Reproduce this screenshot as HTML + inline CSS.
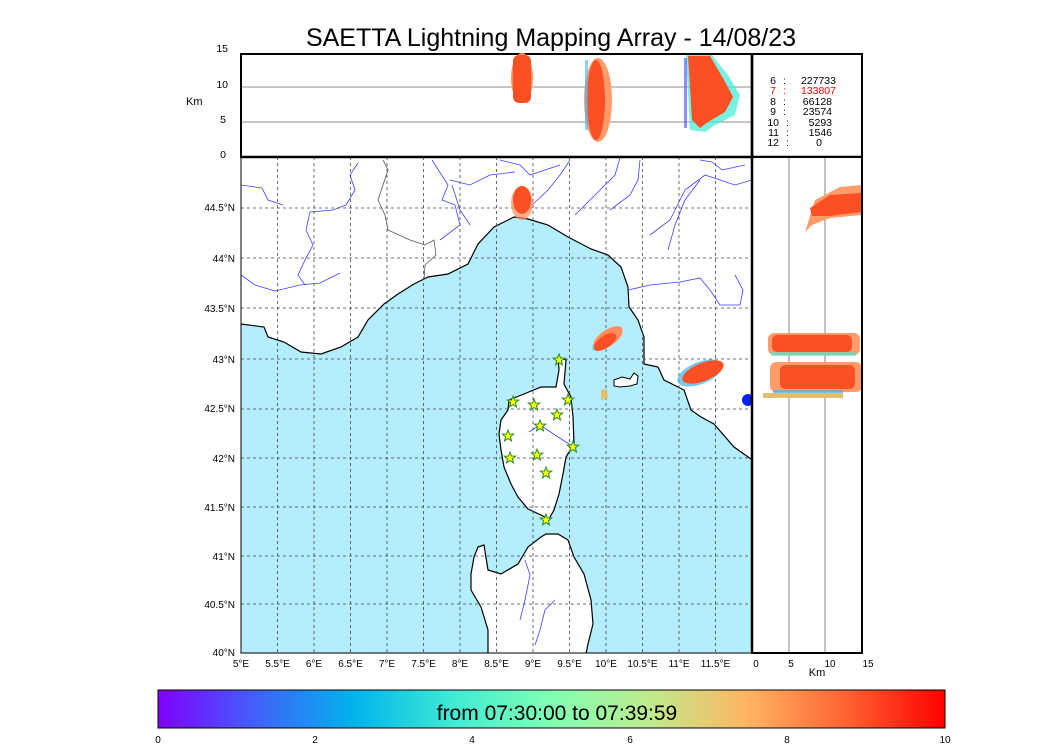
<!DOCTYPE html>
<html><head><meta charset="utf-8"><style>
html,body{margin:0;padding:0;background:#fff;}
svg{display:block;font-family:"Liberation Sans",sans-serif;}
</style></head><body>
<svg width="1050" height="750" viewBox="0 0 1050 750" xmlns="http://www.w3.org/2000/svg">
<defs>
<linearGradient id="rb" x1="0" x2="1" y1="0" y2="0">
<stop offset="0" stop-color="#8000ff"/><stop offset="0.125" stop-color="#4062fa"/>
<stop offset="0.25" stop-color="#00b4ec"/><stop offset="0.375" stop-color="#40ebd4"/>
<stop offset="0.5" stop-color="#80ffb4"/><stop offset="0.625" stop-color="#bfeb8e"/>
<stop offset="0.75" stop-color="#ffb462"/><stop offset="0.875" stop-color="#ff6232"/>
<stop offset="1" stop-color="#ff0000"/></linearGradient>
<clipPath id="mc"><rect x="241" y="157" width="511" height="496"/></clipPath>
</defs>
<text x="551" y="46" font-size="25" text-anchor="middle">SAETTA Lightning Mapping Array - 14/08/23</text>

<!-- map -->
<g clip-path="url(#mc)">
<rect x="241" y="157" width="511" height="496" fill="#b4edfc"/>
<polygon fill="#fff" stroke="#000" stroke-width="1.2" points="241,324 264,327 268,337 284,342 301,352 321,354 341,347 358,337 368,320 384,304 398,294 414,284 428,277 448,274 468,264 478,244 494,227 514,217 528,219 548,225 568,237 591,249 608,255 621,267 628,287 629,307 638,320 644,337 644,364 658,367 664,380 684,390 691,410 701,417 714,424 734,447 751,459 753,459 753,156 240,156 240,324"/>
<polygon fill="#fff" stroke="#000" stroke-width="1.2" points="558,357 566,360 564,384 571,397 573,417 574,444 566,457 563,474 559,494 554,510 549,519 541,515 528,509 518,497 511,484 504,467 501,450 499,434 501,420 508,410 509,400 524,394 541,387 556,387 559,370"/>
<polygon fill="#fff" stroke="#000" stroke-width="1.2" points="546,534 558,534 568,540 574,557 584,574 591,600 593,624 588,644 586,654 488,654 488,630 481,607 471,590 471,574 474,557 478,547 484,545 488,570 501,574 518,564 528,547 541,537"/>
<polygon fill="#fff" stroke="#000" stroke-width="1" points="614,380 622,377 630,379 634,373 638,376 637,384 630,386 620,387 614,386"/>
<polyline fill="none" stroke="#555" stroke-width="0.8" points="383,160 388,170 383,185 378,200 385,215 388,230 410,240 425,245 434,240 436,255 425,265 424,280"/>
<g fill="none" stroke="#4040ff" stroke-width="0.8">
<polyline points="241,185 262,188 268,200 283,205"/>
<polyline points="358,163 350,175 355,190 346,205 333,210 310,212 306,230 313,245 305,260 298,275 305,285"/>
<polyline points="241,275 255,285 275,291 300,285 320,283 340,273"/>
<polyline points="432,160 448,185 442,200 455,205 460,225 440,240"/>
<polyline points="450,180 470,185 490,175 515,172"/>
<polyline points="452,185 460,210 470,225"/>
<polyline points="500,160 520,165 530,175 545,170 560,165"/>
<polyline points="570,160 560,175 548,190 532,205"/>
<polyline points="620,158 615,175 600,190 575,215"/>
<polyline points="640,160 638,180 630,195 610,210"/>
<polyline points="700,160 712,162 722,170 745,165"/>
<polyline points="752,180 735,185 705,175 685,190 670,220 650,235"/>
<polyline points="700,180 685,200 675,225 668,250"/>
<polyline points="628,290 650,285 680,282 700,278 710,290 720,305 740,305 743,290 735,275"/>
<polyline points="529,432 540,425 558,437 574,447"/>
<polyline points="525,560 530,575 525,600 520,620"/>
<polyline points="555,600 545,610 540,630 535,645"/>
</g>
<g stroke="#444" stroke-width="0.8" stroke-dasharray="3,3">
<line x1="277.5" y1="157" x2="277.5" y2="653"/><line x1="314" y1="157" x2="314" y2="653"/><line x1="350.5" y1="157" x2="350.5" y2="653"/><line x1="387" y1="157" x2="387" y2="653"/><line x1="423.5" y1="157" x2="423.5" y2="653"/><line x1="460" y1="157" x2="460" y2="653"/><line x1="496.5" y1="157" x2="496.5" y2="653"/><line x1="533" y1="157" x2="533" y2="653"/><line x1="569.5" y1="157" x2="569.5" y2="653"/><line x1="606" y1="157" x2="606" y2="653"/><line x1="642.5" y1="157" x2="642.5" y2="653"/><line x1="679" y1="157" x2="679" y2="653"/><line x1="715.5" y1="157" x2="715.5" y2="653"/>
<line x1="241" y1="208" x2="752" y2="208"/><line x1="241" y1="258" x2="752" y2="258"/><line x1="241" y1="308" x2="752" y2="308"/><line x1="241" y1="359" x2="752" y2="359"/><line x1="241" y1="409" x2="752" y2="409"/><line x1="241" y1="458" x2="752" y2="458"/><line x1="241" y1="507" x2="752" y2="507"/><line x1="241" y1="556" x2="752" y2="556"/><line x1="241" y1="604" x2="752" y2="604"/>
</g>
<ellipse cx="522" cy="203" rx="11" ry="17" fill="#ff8c5a" opacity="0.7"/>
<ellipse cx="522" cy="200" rx="9" ry="14" fill="#fc4f24"/>
<ellipse cx="606" cy="340" rx="6" ry="17" transform="rotate(55 606 340)" fill="#40ebd4" opacity="0.6"/>
<ellipse cx="608" cy="338" rx="8" ry="17" transform="rotate(55 608 338)" fill="#ff8c5a"/>
<ellipse cx="605" cy="342" rx="6" ry="13" transform="rotate(55 605 342)" fill="#fc4f24"/>
<ellipse cx="700" cy="373" rx="11" ry="24" transform="rotate(68 700 373)" fill="#40b4ec" opacity="0.7"/>
<ellipse cx="703" cy="372" rx="9" ry="22" transform="rotate(68 703 372)" fill="#fc4f24"/>
<polygon points="601,390 607,389 608,398 601,400" fill="#e0c070"/>
<circle cx="748" cy="400" r="6" fill="#0020ff"/>
<g fill="#ffff00" stroke="#228b22" stroke-width="1">
<g id="st"><polygon points="0,-6 1.5,-2 5.7,-1.9 2.4,0.8 3.5,4.9 0,2.5 -3.5,4.9 -2.4,0.8 -5.7,-1.9 -1.5,-2"/></g>
<use href="#st" x="559" y="360"/><use href="#st" x="513" y="402"/><use href="#st" x="534" y="405"/><use href="#st" x="568" y="400"/><use href="#st" x="557" y="415"/><use href="#st" x="540" y="426"/><use href="#st" x="508" y="436"/><use href="#st" x="573" y="447"/><use href="#st" x="537" y="455"/><use href="#st" x="510" y="458"/><use href="#st" x="546" y="473"/><use href="#st" x="546" y="520"/>
</g>
</g>
<rect x="241" y="157" width="511" height="496" fill="none" stroke="#000" stroke-width="1"/>

<!-- top panel -->
<rect x="241" y="54" width="621" height="103" fill="#fff" stroke="#000" stroke-width="2"/>
<line x1="241" y1="87" x2="752" y2="87" stroke="#666" stroke-width="0.8"/>
<line x1="241" y1="122" x2="752" y2="122" stroke="#666" stroke-width="0.8"/>
<ellipse cx="522" cy="78" rx="11" ry="25" fill="#ff9060"/>
<rect x="513" y="55" width="18" height="48" rx="6" fill="#fc4f24"/>
<ellipse cx="598" cy="100" rx="14" ry="42" fill="#ff9c6a"/>
<ellipse cx="596" cy="100" rx="9" ry="40" fill="#fc4f24"/>
<rect x="585" y="60" width="3" height="70" fill="#40b4ec" opacity="0.6"/>
<path d="M686 55 L712 55 L728 75 L740 95 L735 115 L715 125 L705 132 L690 130 Z" fill="#40ebd4" opacity="0.7"/>
<path d="M688 56 L710 56 L724 80 L733 97 L725 112 L708 122 L700 128 L692 120 Z" fill="#fc4f24"/>
<rect x="684" y="58" width="3" height="70" fill="#6060ff" opacity="0.7"/>
<line x1="752" y1="54" x2="752" y2="157" stroke="#000" stroke-width="2.5"/>
<line x1="241" y1="157" x2="862" y2="157" stroke="#000" stroke-width="2.5"/>
<g font-size="10.5" text-anchor="end">
<text x="228" y="52">15</text><text x="228" y="88">10</text><text x="226" y="123">5</text><text x="226" y="158">0</text>
</g>
<text x="186" y="105" font-size="11">Km</text>
<g font-size="10.5" text-anchor="end">
<text x="776" y="84">6</text><text x="776" y="94" fill="#ff0000">7</text><text x="776" y="105">8</text><text x="776" y="115">9</text><text x="779" y="126">10</text><text x="779" y="136">11</text><text x="779" y="146">12</text>
<text x="836" y="84">227733</text><text x="836" y="94" fill="#ff0000">133807</text><text x="832" y="105">66128</text><text x="832" y="115">23574</text><text x="832" y="126">5293</text><text x="832" y="136">1546</text><text x="822" y="146">0</text>
</g>
<g font-size="10.5">
<text x="783" y="84">:</text><text x="783" y="94" fill="#ff0000">:</text><text x="783" y="105">:</text><text x="783" y="115">:</text><text x="786" y="126">:</text><text x="786" y="136">:</text><text x="786" y="146">:</text>
</g>

<!-- right panel -->
<rect x="752" y="157" width="110" height="496" fill="#fff" stroke="#000" stroke-width="2"/>
<line x1="789" y1="157" x2="789" y2="653" stroke="#666" stroke-width="0.8"/>
<line x1="825" y1="157" x2="825" y2="653" stroke="#666" stroke-width="0.8"/>
<path d="M805 232 L815 200 L840 187 L861 185 L861 215 L830 218 L812 225 Z" fill="#ff9c6a"/>
<path d="M810 208 L830 195 L861 193 L861 212 L830 216 L812 216 Z" fill="#fc4f24"/>
<rect x="768" y="333" width="92" height="22" rx="6" fill="#ff9c6a"/>
<rect x="772" y="335" width="80" height="17" rx="5" fill="#fc4f24"/>
<rect x="771" y="352" width="85" height="4" fill="#40ebd4" opacity="0.6"/>
<rect x="770" y="362" width="92" height="30" rx="6" fill="#ff9c6a"/>
<rect x="780" y="365" width="75" height="24" rx="5" fill="#fc4f24"/>
<rect x="773" y="390" width="70" height="8" fill="#40b4ec" opacity="0.7"/>
<rect x="763" y="393" width="80" height="5" fill="#e0c070"/>
<rect x="752" y="157" width="110" height="496" fill="none" stroke="#000" stroke-width="2"/>
<line x1="752" y1="54" x2="752" y2="653" stroke="#000" stroke-width="2.5"/>

<g font-size="10" text-anchor="end">
<text x="235" y="211">44.5°N</text><text x="235" y="262">44°N</text><text x="235" y="312">43.5°N</text><text x="235" y="363">43°N</text><text x="235" y="412">42.5°N</text><text x="235" y="462">42°N</text><text x="235" y="511">41.5°N</text><text x="235" y="560">41°N</text><text x="235" y="608">40.5°N</text><text x="235" y="656">40°N</text>
</g>
<g font-size="10" text-anchor="middle">
<text x="241" y="667">5°E</text><text x="277.5" y="667">5.5°E</text><text x="314" y="667">6°E</text><text x="350.5" y="667">6.5°E</text><text x="387" y="667">7°E</text><text x="423.5" y="667">7.5°E</text><text x="460" y="667">8°E</text><text x="496.5" y="667">8.5°E</text><text x="533" y="667">9°E</text><text x="569.5" y="667">9.5°E</text><text x="606" y="667">10°E</text><text x="642.5" y="667">10.5°E</text><text x="679" y="667">11°E</text><text x="715.5" y="667">11.5°E</text>
<text x="756" y="667">0</text><text x="791" y="667">5</text><text x="830" y="667">10</text><text x="868" y="667">15</text>
</g>
<text x="817" y="676" font-size="11" text-anchor="middle">Km</text>

<rect x="158" y="690" width="787" height="38" fill="url(#rb)" stroke="#000" stroke-width="1"/>
<text x="557" y="720" font-size="21" text-anchor="middle">from 07:30:00 to 07:39:59</text>
<g font-size="10" text-anchor="middle">
<text x="158" y="743">0</text><text x="315" y="743">2</text><text x="472" y="743">4</text><text x="630" y="743">6</text><text x="787" y="743">8</text><text x="945" y="743">10</text>
</g>
</svg>
</body></html>
